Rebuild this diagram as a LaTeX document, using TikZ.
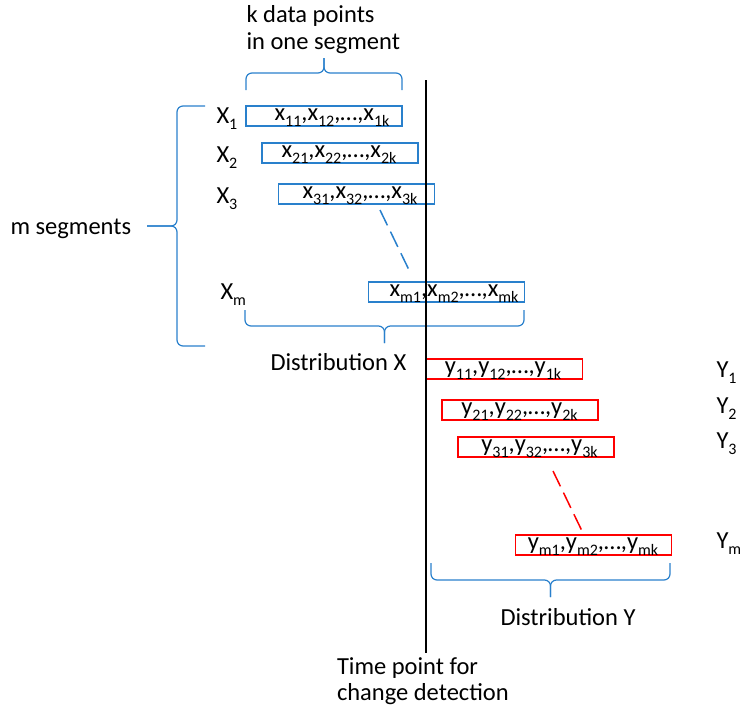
\documentclass[tikz,border=0pt]{standalone}
\usepackage{fontspec}
\setmainfont{Carlito}
\usetikzlibrary{calc}

\definecolor{segblue}{RGB}{41,128,204}
\definecolor{segred}{RGB}{255,0,0}

% lowered, smaller index as in "x_{11}"
\newcommand\sbs[1]{\raisebox{-6pt}{\fontsize{16}{16}\selectfont #1}}

% horizontal curly brace: x1, x2, y of the ends, y of the bar, y of the tip
\newcommand\hbrace[5]{%
  \pgfmathsetmacro\bmid{(#1+#2)/2}%
  \draw[bracestyle] (#1,#3) -- (#1,#4) -- (\bmid,#4) -- (\bmid,#5);
  \draw[bracestyle] (#2,#3) -- (#2,#4) -- (\bmid,#4) -- (\bmid,#5);
}

\begin{document}
\begin{tikzpicture}[x=1pt,y=-1pt,
  every node/.style={font=\fontsize{24.5}{27}\selectfont, inner sep=0pt, outer sep=0pt},
  segbox/.style={draw, line width=1.2pt, minimum width=156pt, minimum height=20pt},
  xbox/.style={segbox, draw=segblue},
  ybox/.style={segbox, draw=segred},
  boxtext/.style={anchor=base},
  lbl/.style={anchor=base west},
  bracestyle/.style={draw=segblue, line width=1.2pt, rounded corners=6pt},
  gapline/.style={line width=1.5pt, dash pattern=on 17pt off 7pt}]
\useasboundingbox (0,0) rectangle (740,713);

% segments before the change point
\node[xbox] (x1) at (324,116) {};
\node[xbox] (x2) at (340,153) {};
\node[xbox] (x3) at (356.5,194) {};
\node[xbox] (xm) at (446.5,292) {};
\node[boxtext] (x1t) at (332,120) {x\sbs{11},x\sbs{12},…,x\sbs{1k}};
\node[boxtext] (x2t) at (339,157) {x\sbs{21},x\sbs{22},…,x\sbs{2k}};
\node[boxtext] (x3t) at (360,198) {x\sbs{31},x\sbs{32},…,x\sbs{3k}};
\node[boxtext] (xmt) at (454,296) {x\sbs{m1},x\sbs{m2},…,x\sbs{mk}};

% segments after the change point
\node[ybox] (y1) at (504.5,369) {};
\node[ybox] (y2) at (520,410) {};
\node[ybox] (y3) at (536,447) {};
\node[ybox] (ym) at (593.5,545) {};
\node[boxtext] (y1t) at (503,373) {y\sbs{11},y\sbs{12},…,y\sbs{1k}};
\node[boxtext] (y2t) at (519.5,414) {y\sbs{21},y\sbs{22},…,y\sbs{2k}};
\node[boxtext] (y3t) at (539.5,451) {y\sbs{31},y\sbs{32},…,y\sbs{3k}};
\node[boxtext] (ymt) at (593,549) {y\sbs{m1},y\sbs{m2},…,y\sbs{mk}};

% row labels
\node[lbl] (lx1) at (216.5,123) {X\sbs{1}};
\node[lbl] (lx2) at (216.5,162) {X\sbs{2}};
\node[lbl] (lx3) at (216.5,203) {X\sbs{3}};
\node[lbl] (lxm) at (220.5,299) {X\sbs{m}};
\node[lbl] (ly1) at (716.5,377) {Y\sbs{1}};
\node[lbl] (ly2) at (716.5,413) {Y\sbs{2}};
\node[lbl] (ly3) at (716.5,448) {Y\sbs{3}};
\node[lbl] (lym) at (716.5,548) {Y\sbs{m}};

% omitted rows
\coordinate (xgapA) at (380,210);
\coordinate (xgapB) at (409,270);
\coordinate (ygapA) at (553,471);
\coordinate (ygapB) at (582,531);
\draw[gapline, segblue] (xgapA) -- (xgapB);
\draw[gapline, segred] (ygapA) -- (ygapB);

% braces
\hbrace{246}{402}{90}{73}{58}
\hbrace{245}{524}{310}{326}{343}
\hbrace{431}{670}{563}{580}{597}
\draw[bracestyle] (205,106) -- (177,106) -- (177,226) -- (147,226);
\draw[bracestyle] (205,346) -- (177,346) -- (177,226) -- (147,226);

% change point
\coordinate (tTop) at (426,80);
\coordinate (tBot) at (426,653);
\draw[line width=2.6pt] (tTop) -- (tBot);

% captions
\node[lbl] (kA) at (246.5,22) {k data points};
\node[lbl] (kB) at (246.5,49) {in one segment};
\node[lbl] (mseg) at (10.5,234) {m segments};
\node[lbl] (distx) at (270.5,370) {Distribution X};
\node[lbl] (disty) at (500.5,625) {Distribution Y};
\node[lbl] (tpA) at (337,674) {Time point for};
\node[lbl] (tpB) at (337,700) {change detection};
\end{tikzpicture}
\end{document}
